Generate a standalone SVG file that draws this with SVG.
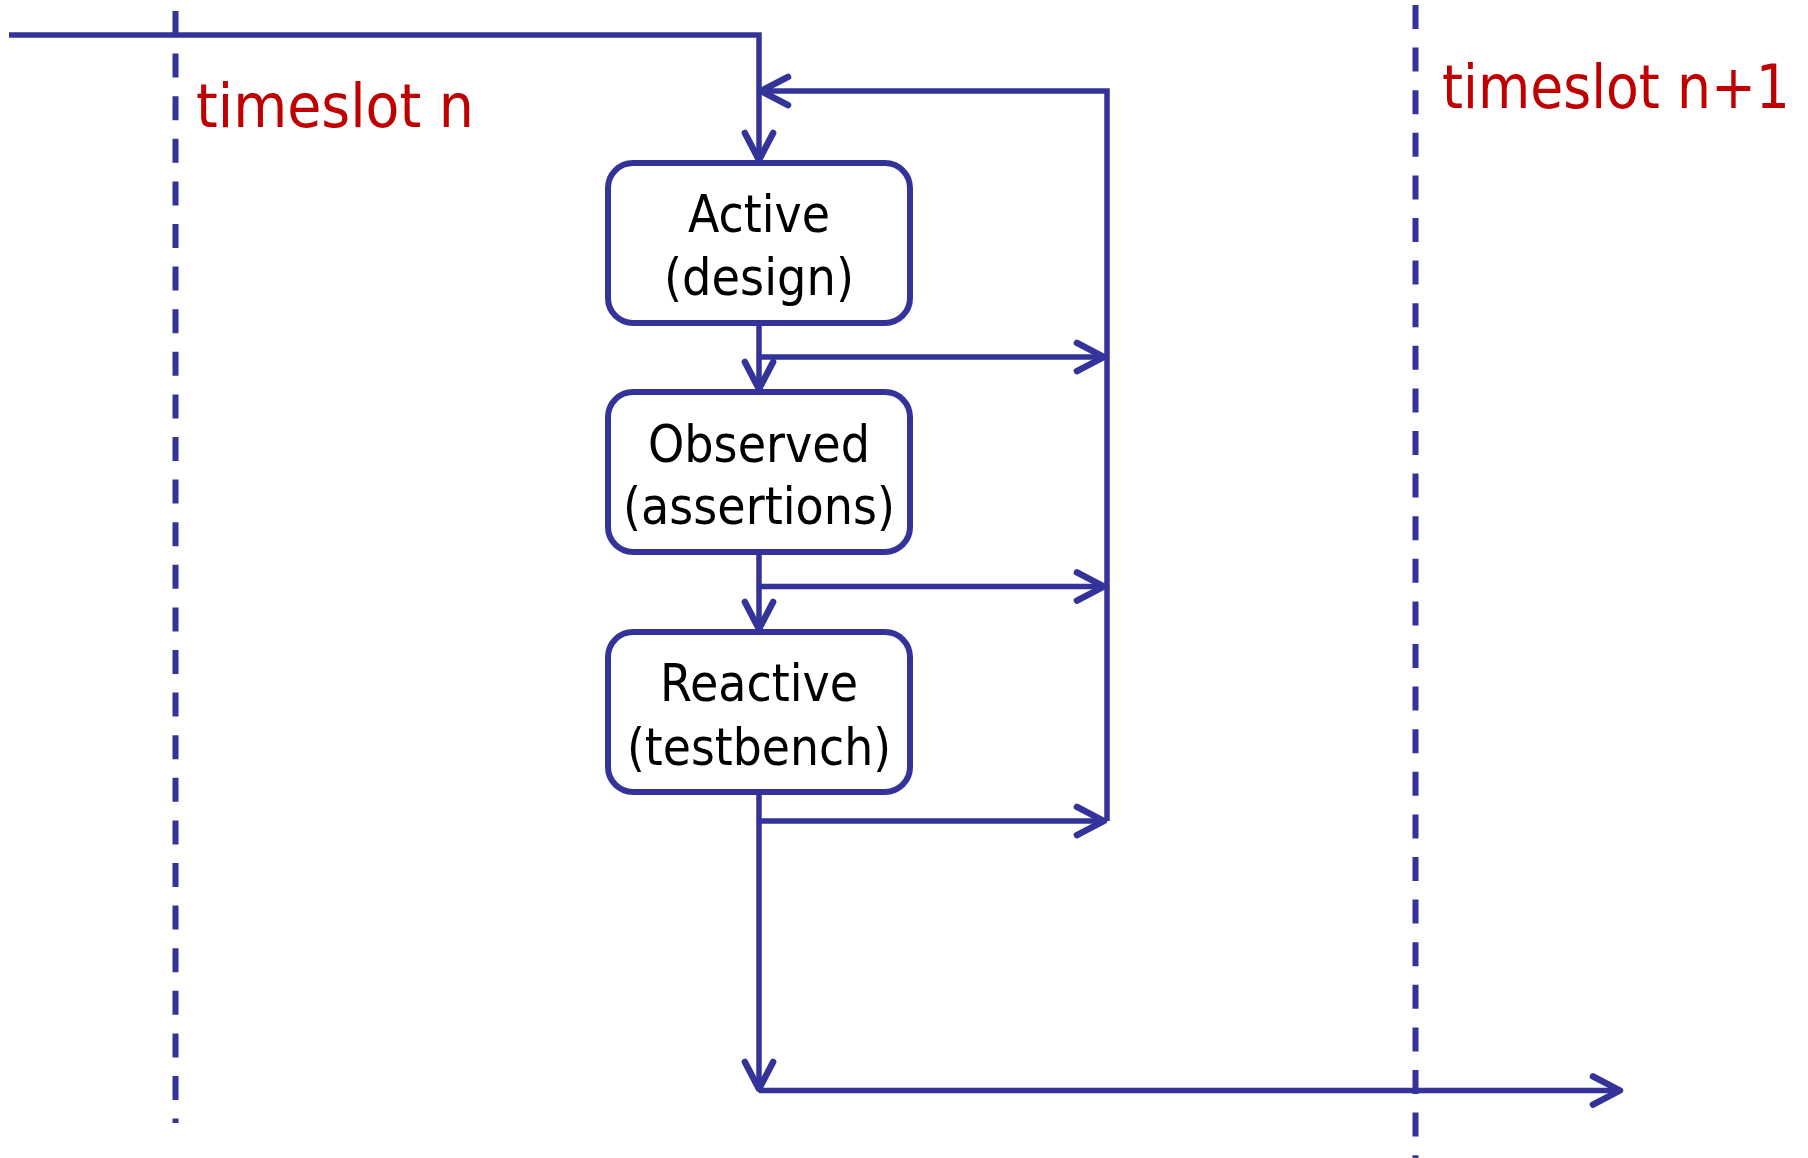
<svg xmlns="http://www.w3.org/2000/svg" width="1808" height="1158" viewBox="0 0 1808 1158">
  <style>
    .wire { fill: none; stroke: #333399; stroke-width: 5.5; stroke-linecap: butt; stroke-linejoin: miter; }
    .dash { fill: none; stroke: #333399; stroke-width: 6; stroke-dasharray: 24 18.6; }
    .box { fill: #ffffff; stroke: #333399; stroke-width: 6; }
    .lbl { font-family: "DejaVu Sans", "Open Sans", sans-serif; font-size: 52px; fill: #000000; text-anchor: middle; }
    .slot { font-family: "DejaVu Sans", "Open Sans", sans-serif; font-size: 53px; fill: #c00000; }
  </style>
  <defs>
    <marker id="vhead" markerUnits="userSpaceOnUse" markerWidth="40" markerHeight="40" viewBox="-30 -16 34 32" refX="0" refY="0" orient="auto">
      <path d="M -23 -12 L 0 0 L -23 12" fill="none" stroke="#333399" stroke-width="5.5" stroke-linecap="round" stroke-linejoin="round"/>
    </marker>
  </defs>

  <rect width="1808" height="1158" fill="#ffffff"/>

  <!-- timeslot boundaries -->
  <g id="boundaries">
    <line class="dash" x1="175.5" y1="11" x2="175.5" y2="1123"/>
    <line class="dash" x1="1415.5" y1="5" x2="1415.5" y2="1158"/>
  </g>

  <!-- slot labels: narrow face, stretched vertically -->
  <g id="slot-n">
    <text class="slot" transform="translate(196 127) scale(1 1.151)" x="0" y="0" textLength="278" lengthAdjust="spacingAndGlyphs">timeslot n</text>
  </g>
  <g id="slot-n1">
    <text class="slot" transform="translate(1442 108) scale(1 1.151)" x="0" y="0" textLength="348" lengthAdjust="spacingAndGlyphs">timeslot n+1</text>
  </g>

  <!-- connectors -->
  <g id="connectors">
    <path class="wire" d="M 9 35 H 759 V 160" marker-end="url(#vhead)"/>
    <path class="wire" d="M 1107 821 V 91 H 761" marker-end="url(#vhead)"/>
    <path class="wire" d="M 759 323 V 389" marker-end="url(#vhead)"/>
    <path class="wire" d="M 759 357 H 1104" marker-end="url(#vhead)"/>
    <path class="wire" d="M 759 552 V 629" marker-end="url(#vhead)"/>
    <path class="wire" d="M 759 586.5 H 1104" marker-end="url(#vhead)"/>
    <path class="wire" d="M 759 792 V 1089" marker-end="url(#vhead)"/>
    <path class="wire" d="M 759 821 H 1104" marker-end="url(#vhead)"/>
    <path class="wire" d="M 759 1090.5 H 1620" stroke-width="6" marker-end="url(#vhead)"/>
  </g>

  <!-- scheduling regions -->
  <g id="active">
    <rect class="box" x="608" y="163" width="302" height="160" rx="25" ry="25"/>
    <text class="lbl" x="759" y="232" textLength="142" lengthAdjust="spacingAndGlyphs">Active</text>
    <text class="lbl" x="759" y="295" textLength="190" lengthAdjust="spacingAndGlyphs">(design)</text>
  </g>
  <g id="observed">
    <rect class="box" x="608" y="392" width="302" height="160" rx="25" ry="25"/>
    <text class="lbl" x="759" y="462" textLength="222" lengthAdjust="spacingAndGlyphs">Observed</text>
    <text class="lbl" x="759" y="524" textLength="272" lengthAdjust="spacingAndGlyphs">(assertions)</text>
  </g>
  <g id="reactive">
    <rect class="box" x="608" y="632" width="302" height="160" rx="25" ry="25"/>
    <text class="lbl" x="759" y="701" textLength="198" lengthAdjust="spacingAndGlyphs">Reactive</text>
    <text class="lbl" x="759" y="765" textLength="264" lengthAdjust="spacingAndGlyphs">(testbench)</text>
  </g>
</svg>
